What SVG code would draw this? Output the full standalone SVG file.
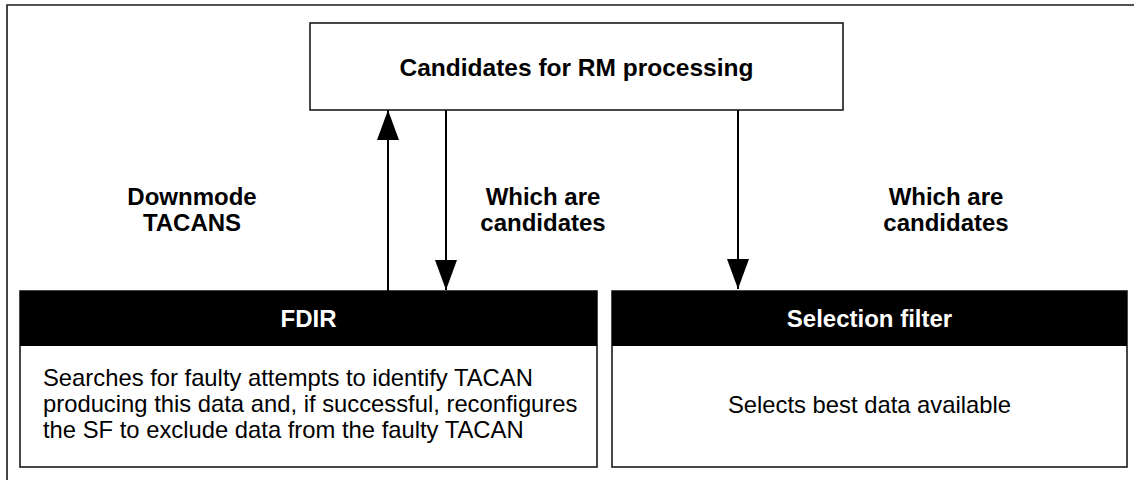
<svg xmlns="http://www.w3.org/2000/svg" width="1138" height="480" viewBox="0 0 1138 480">
<style>
.box{fill:#fff;stroke:#1a1a1a;stroke-width:1.6}
.hdr{fill:#000}
.b{font-family:"Liberation Sans",Arial,sans-serif;font-weight:bold;fill:#000}
.r{font-family:"Liberation Sans",Arial,sans-serif;fill:#000}
.w{fill:#fff}
.con{stroke:#000;stroke-width:2;fill:none}
</style>
<defs>
<marker id="ah" viewBox="0 0 30 22" refX="30" refY="11" markerWidth="30" markerHeight="22" markerUnits="userSpaceOnUse" orient="auto">
<path d="M0,0 L30,11 L0,22 Z" fill="#000"/>
</marker>
</defs>
<rect width="1138" height="480" fill="#fff"/>
<path d="M7,481 V5 H1134" fill="none" stroke="#1a1a1a" stroke-width="1.6"/>
<g id="rm">
<rect class="box" x="310" y="23" width="533" height="87"/>
<text class="b" x="576.5" y="76" font-size="24.5" text-anchor="middle">Candidates for RM processing</text>
</g>
<g id="fdir">
<rect class="box" x="20" y="291" width="577" height="176"/>
<rect class="hdr" x="20" y="291" width="577" height="55"/>
<text class="b w" x="308.5" y="327" font-size="24" text-anchor="middle">FDIR</text>
<text class="r" x="43" y="386" font-size="23.8">Searches for faulty attempts to identify TACAN</text>
<text class="r" x="43" y="412" font-size="23.8">producing this data and, if successful, reconfigures</text>
<text class="r" x="43" y="438" font-size="23.8">the SF to exclude data from the faulty TACAN</text>
</g>
<g id="sf">
<rect class="box" x="612" y="291" width="515" height="176"/>
<rect class="hdr" x="612" y="291" width="515" height="55"/>
<text class="b w" x="869.5" y="327" font-size="24" text-anchor="middle">Selection filter</text>
<text class="r" x="869.5" y="413" font-size="23.8" text-anchor="middle">Selects best data available</text>
</g>
<g id="connectors">
<line class="con" x1="388" y1="291" x2="388" y2="110" marker-end="url(#ah)"/>
<line class="con" x1="446" y1="110" x2="446" y2="290" marker-end="url(#ah)"/>
<line class="con" x1="738" y1="110" x2="738" y2="289" marker-end="url(#ah)"/>
</g>
<g id="labels">
<text class="b" x="192" y="205" font-size="24" text-anchor="middle">Downmode</text>
<text class="b" x="192" y="231" font-size="24" text-anchor="middle">TACANS</text>
<text class="b" x="543" y="205" font-size="24" text-anchor="middle">Which are</text>
<text class="b" x="543" y="231" font-size="24" text-anchor="middle">candidates</text>
<text class="b" x="946" y="205" font-size="24" text-anchor="middle">Which are</text>
<text class="b" x="946" y="231" font-size="24" text-anchor="middle">candidates</text>
</g>
</svg>
